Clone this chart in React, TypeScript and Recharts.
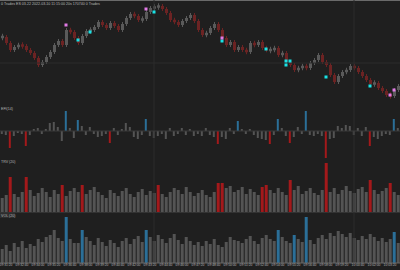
import { ComposedChart, Bar, Cell, XAxis, YAxis, Scatter, ReferenceLine } from "recharts";

// price closes (chart units), one per bar
const closes = [
  63, 57, 50, 53, 55, 54, 50, 47, 42, 35,
  38, 43, 48, 55, 59, 55, 70, 68, 62, 57,
  64, 69, 70, 73, 78, 75, 72, 77, 74, 70,
  76, 82, 86, 84, 80, 81, 88, 92, 93, 94,
  91, 87, 80, 78, 75, 79, 82, 85, 79, 70,
  65, 67, 72, 76, 70, 62, 55, 58, 50, 53,
  50, 48, 57, 55, 58, 52, 50, 50, 52, 45,
  47, 38, 35, 30, 32, 34, 32, 37, 40, 45,
  38, 35, 25, 18, 24, 28, 30, 34, 32, 28,
  24, 20, 16, 17, 12, 9, 5, 4, 10, 14,
];

// force index histogram
const efi = [
  -3, -4, -17, -5, -2, -3, -15, -4, 2, 3,
  -3, 2, 8, 9, 4, -10, 20, 3, -7, 11,
  5, -4, 4, -3, -6, -5, -3, -12, 3, -4,
  2, 8, 4, -6, -8, -4, 12, -5, -7, -5,
  -3, -8, 3, -5, -3, 3, -4, 2, -5, -3,
  -5, 3, -4, -6, -13, -6, -8, 3, -3, 10,
  2, -3, 2, -4, -7, -8, -9, -13, -4, 12,
  3, -5, -12, -6, 4, -3, 20, -4, -5, -3,
  -5, -27, -8, -7, 5, 3, 6, 5, -4, 3,
  -5, 4, -15, -6, -8, -5, -3, -4, 12, 3,
];

// third panel
const trv = [
  14, 17, 35, 18, 15, 20, 35, 22, 16, 19,
  24, 20, 15, 22, 18, 27, 16, 21, 24, 20,
  27, 18, 22, 25, 20, 17, 14, 22, 19, 16,
  21, 24, 18, 15, 20, 23, 17, 21, 19, 27,
  18, 15, 20, 24, 22, 18, 25, 20, 16, 19,
  22, 17, 15, 20, 29, 29, 24, 26, 20, 22,
  25, 18, 23, 20, 17, 25, 27, 22, 19, 24,
  20, 17, 32, 22, 26, 18, 21, 24, 19, 17,
  22, 49, 20, 24, 18, 22, 26, 21, 19, 23,
  25, 20, 32, 22, 18, 21, 24, 29, 20, 17,
];
const trvSpikes = [2, 6, 15, 20, 39, 54, 55, 65, 66, 72, 81, 92, 97];

// volume panel
const vol = [
  14, 18, 12, 20, 16, 22, 15, 19, 17, 24,
  21, 26, 28, 33, 25, 22, 46, 24, 20, 20,
  33, 26, 22, 18, 25, 21, 17, 23, 20, 16,
  22, 25, 19, 24, 27, 21, 33, 26, 22, 28,
  24, 20, 25, 29, 23, 19, 26, 22, 18, 21,
  17, 22, 19, 24, 18, 16, 21, 26, 23, 22,
  20, 24, 27, 22, 19, 25, 28, 24, 22, 33,
  26, 22, 20, 28, 24, 21, 46, 23, 19, 25,
  28, 24, 30, 27, 32, 29, 26, 30, 25, 23,
  27, 24, 29, 26, 22, 25, 21, 24, 31, 20,
];
const volSpikes = [16, 20, 36, 69, 73, 76, 98];

const buySignals = [[19, 60], [22, 68], [38, 88], [55, 59], [66, 51], [71, 39], [71, 35], [72, 39], [81, 23], [92, 14]];
const sellSignals = [[16, 75], [36, 91], [55, 62], [97, 5], [98, 10]];

const tickLabels = [
  "09:31:20", "09:32:40", "09:34:00", "09:35:20", "09:36:40", "09:38:00", "09:39:20",
  "09:40:40", "09:42:00", "09:43:20", "09:44:40", "09:46:00", "09:47:20", "09:48:40",
  "09:50:00", "09:51:20", "09:52:40", "09:54:00", "09:55:20", "09:56:40", "09:58:00",
  "09:59:20", "10:00:40", "10:02:00", "10:03:20",
];
const tickIdx = tickLabels.map((_, k) => 1 + 4 * k);

const rows: any[] = closes.map((c, i) => {
  const open = i === 0 ? c : closes[i - 1];
  let lo = Math.min(open, c);
  let hi = Math.max(open, c);
  if (hi - lo < 2.5) {
    const mid = (hi + lo) / 2;
    lo = mid - 1.25;
    hi = mid + 1.25;
  }
  return {
    i,
    candle: [lo, hi],
    wick: [lo - 2, hi + 2],
    down: c < open,
    efi: efi[i],
    trv: trv[i],
    vol: vol[i],
    buyA: null,
    buyB: null,
    sell: null,
  };
});
buySignals.forEach(([i, v]) => {
  if (rows[i].buyA == null) rows[i].buyA = v;
  else rows[i].buyB = v;
});
sellSignals.forEach(([i, v]) => {
  rows[i].sell = v;
});

const BG = "#1f1f1f";
const GRID = "#2c2c2c";
const RED = "#a3191b";
const CANDLE_RED = "#6c2323";
const CANDLE_GRAY = "#5a5a5a";
const HIST = "#545454";
const BLUE = "#2b6f98";
const CYAN = "#19e3e6";
const MAGENTA = "#e27be6";
const FONT = "Liberation Sans, sans-serif";
const margin = { top: 0, right: 0, bottom: 0, left: 0 };

const square = (color: string) => (p: any) =>
  p.cy == null || Number.isNaN(p.cy) || p.payload == null ? <g /> : (
    <rect x={p.cx - 1.5} y={p.cy - 1.5} width={3} height={3} fill={color} />
  );

const vGrid = [38, 88];

export default function App() {
  return (
    <div style={{ position: "fixed", top: 0, left: 0, width: 400, height: 270, background: BG, overflow: "hidden" }}>
      <div style={{ position: "absolute", top: 0, left: 0, width: 400, height: 1, background: "#6a6a6a" }} />

      <div style={{ position: "absolute", top: 0, left: 0 }}>
        <ComposedChart width={400} height={100} data={rows} margin={margin} barCategoryGap="20%">
          <XAxis dataKey="i" hide />
          <XAxis dataKey="i" xAxisId="w" hide />
          <YAxis hide domain={[0, 100]} />
          <ReferenceLine y={37} stroke={GRID} />
          {vGrid.map((x) => <ReferenceLine key={x} x={x} stroke={GRID} />)}
          <Bar dataKey="wick" xAxisId="w" barSize={1} isAnimationActive={false}>
            {rows.map((r) => <Cell key={r.i} fill={r.down ? CANDLE_RED : CANDLE_GRAY} />)}
          </Bar>
          <Bar dataKey="candle" barSize={3} isAnimationActive={false}>
            {rows.map((r) => <Cell key={r.i} fill={r.down ? CANDLE_RED : CANDLE_GRAY} />)}
          </Bar>
          <Scatter dataKey="buyA" isAnimationActive={false} shape={square(CYAN)} />
          <Scatter dataKey="buyB" isAnimationActive={false} shape={square(CYAN)} />
          <Scatter dataKey="sell" isAnimationActive={false} shape={square(MAGENTA)} />
        </ComposedChart>
      </div>

      <div style={{ position: "absolute", top: 100, left: 0 }}>
        <ComposedChart width={400} height={60} data={rows} margin={margin} barCategoryGap="20%">
          <XAxis dataKey="i" hide />
          <YAxis hide domain={[-29, 31]} />
          {vGrid.map((x) => <ReferenceLine key={x} x={x} stroke={GRID} />)}
          <ReferenceLine y={0} stroke="#3a3a3a" />
          <Bar dataKey="efi" isAnimationActive={false}>
            {rows.map((r) => (
              <Cell key={r.i} fill={r.efi <= -12 ? RED : r.efi >= 10 ? BLUE : HIST} />
            ))}
          </Bar>
        </ComposedChart>
      </div>

      <div style={{ position: "absolute", top: 160, left: 0 }}>
        <ComposedChart width={400} height={52} data={rows} margin={margin} barCategoryGap="18%">
          <XAxis dataKey="i" hide />
          <YAxis hide domain={[0, 52]} />
          {vGrid.map((x) => <ReferenceLine key={x} x={x} stroke={GRID} />)}
          <Bar dataKey="trv" isAnimationActive={false}>
            {rows.map((r) => <Cell key={r.i} fill={trvSpikes.includes(r.i) ? RED : HIST} />)}
          </Bar>
        </ComposedChart>
      </div>

      <div style={{ position: "absolute", top: 212, left: 0, width: 400, height: 1, background: "#333" }} />

      <div style={{ position: "absolute", top: 212, left: 0 }}>
        <ComposedChart width={400} height={58} data={rows} margin={margin} barCategoryGap="18%">
          <XAxis
            dataKey="i"
            height={7}
            ticks={tickIdx}
            interval={0}
            tickFormatter={(v: number) => tickLabels[(v - 1) / 4] ?? ""}
            tick={{ fontSize: 3.3, fill: "#b5b5b5", fontFamily: FONT }}
            tickLine={false}
            tickSize={0}
            tickMargin={1}
            axisLine={{ stroke: "#666" }}
          />
          <YAxis hide domain={[0, 51]} />
          {vGrid.map((x) => <ReferenceLine key={x} x={x} stroke={GRID} />)}
          <Bar dataKey="vol" isAnimationActive={false}>
            {rows.map((r) => <Cell key={r.i} fill={volSpikes.includes(r.i) ? BLUE : HIST} />)}
          </Bar>
        </ComposedChart>
      </div>

      <svg width={400} height={270} style={{ position: "absolute", top: 0, left: 0, pointerEvents: "none" }}>
        <g fontFamily={FONT} fontSize={3.6} fill="#b8b8b8">
          <text x={1} y={5}>0 Trades   ES 03-22   2022-03-10 11:15:00   20s   170740   0 Trades</text>
          <text x={1} y={109.5}>EFI(14)</text>
          <text x={1} y={162.5}>TRV (20)</text>
          <rect x={0} y={213} width={15} height={5} fill="#2e2e2e" />
          <text x={1} y={216.8}>VOL (20)</text>
        </g>
      </svg>
    </div>
  );
}
